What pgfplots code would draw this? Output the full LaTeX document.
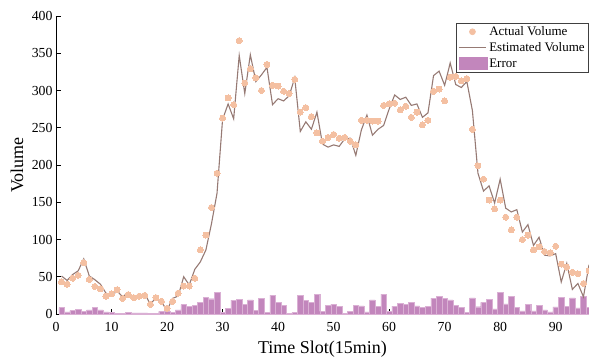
\documentclass[border=0pt]{standalone}
\usepackage{fontspec}
\setmainfont{Liberation Serif}
\usepackage{pgfplots}
\usepackage{pgfplotstable}
\pgfplotsset{compat=1.18}
\definecolor{actc}{RGB}{244,192,162}
\definecolor{estc}{RGB}{150,122,116}
\definecolor{errc}{RGB}{194,134,188}
\definecolor{erre}{RGB}{218,176,212}

\pgfplotstableread{
x a e r
1 43 51 8.5
2 40 45 3
3 48 53 5
4 52 58 6.7
5 69 74 4
6 46.5 51 5.4
7 37 46 8.5
8 34 40 5.4
9 24 28 3
10 27 24 2
11 32.6 31 1
12 21 23 0.5
13 26 29 2
14 22 22 1.5
15 24 22 1.5
16 25 27 1.5
17 13 13 0.5
18 22 22 0.5
19 17 16 3.5
20 7.6 5 4
21 17 21 2
22 28 24 5.4
23 37.5 50 12.5
24 37.5 39 10
25 48 60 11.6
26 86 70 15.6
27 106 86 22
28 143 121 20.5
29 189 162 28.6
30 263 261 2
31 290 282 7.6
32 281 262 18.7
33 367 347 20
34 310 296 13.4
35 329 348 18.8
36 317 312 4.5
37 300 321 21.4
38 335 331 2.2
39 307 281 25.5
40 306 289 16
41 299 286 12
42 296 293 1
43 315 317 2
44 271 245 25.5
45 277 258 18
46 265 248 16
47 243 271 26.4
48 232 228 3.5
49 237 224 12
50 241 227 13.4
51 236 225 10.7
52 237 235 1
53 232 236 3.6
54 227 213 12
55 260 247 11
56 260 267 3
57 259 240 18.8
58 259 248 10.7
59 280 253 26.8
60 282 275 4
61 283 294 10.7
62 274 288 14
63 279 291 12.5
64 264 280 15.6
65 271 282 11
66 254 264 8.5
67 260 270 10.7
68 299 320 21.4
69 302 326 23.7
70 286 307 21
71 318 337 18.8
72 319 308 11.6
73 313 304 9.4
74 316 312 2
75 248 273 21.5
76 199 189 9.8
77 181 165 15.5
78 153 172 19.6
79 141 149 6.8
80 153 181 28.6
81 130 142 13.6
82 113 137 23.5
83 130 140 9.4
84 100 110 4.2
85 106 120 13.4
86 86 92 4.2
87 90 103 11.6
88 84 79 5.6
89 82 78 3
90 91 81 9.6
91 67 43 22
92 63 68 10.5
93 56 33 21.5
94 54 41 8.3
95 41 23 24
96 58 66 8.5
}\data

\begin{document}
\begin{tikzpicture}
\path[use as bounding box] (-56pt,-46pt) rectangle (533pt,314pt);
\begin{axis}[
  scale only axis, width=533pt, height=298pt,
  xmin=0, xmax=96, ymin=0, ymax=400,
  axis x line*=bottom, axis y line*=left,
  axis line style={line width=0.8pt, black},
  tick align=inside, major tick length=5pt,
  tick style={line width=0.8pt, black},
  xtick={0,10,...,90}, ytick={0,50,...,400},
  /pgf/number format/assume math mode=true,
  tick label style={font=\fontsize{13.8}{16}\selectfont},
  xticklabel shift=5pt,
  xlabel={Time Slot(15min)}, ylabel={Volume},
  label style={font=\fontsize{18}{21}\selectfont},
  xlabel style={at={(axis description cs:0.5,-0.118)}, anchor=center},
  ylabel style={at={(axis description cs:-0.073,0.5)}, anchor=center},
  legend style={draw=black!75, line width=0.6pt, at={(1,1)}, anchor=north east,
    yshift=-6.7pt, inner xsep=2pt, inner ysep=1.5pt, row sep=1.6pt,
    font=\fontsize{13}{15}\selectfont, cells={anchor=west}},
  legend cell align=left,
]
\addlegendimage{legend image code/.code={\fill[actc] (13.5pt,0pt) circle (3pt);}}
\addlegendentry{Actual Volume}
\addlegendimage{legend image code/.code={\draw[estc, line width=1.1pt] (0pt,0pt) -- (27pt,0pt);}}
\addlegendentry{Estimated Volume}
\addlegendimage{legend image code/.code={\fill[errc] (0pt,-6pt) rectangle (28pt,6pt);}}
\addlegendentry{Error}

\addplot[ybar, bar width=1, bar shift=0pt, fill=errc, draw=erre, line width=0.4pt, forget plot] table[x=x, y=r] {\data};
\addplot[actc, only marks, mark=*, mark size=3pt, mark options={draw=actc, fill=actc, line width=0pt}, forget plot] table[x=x, y=a] {\data};
\addplot[estc, line width=1.1pt, no marks, forget plot] table[x=x, y=e] {\data};
\end{axis}
\end{tikzpicture}
\end{document}
